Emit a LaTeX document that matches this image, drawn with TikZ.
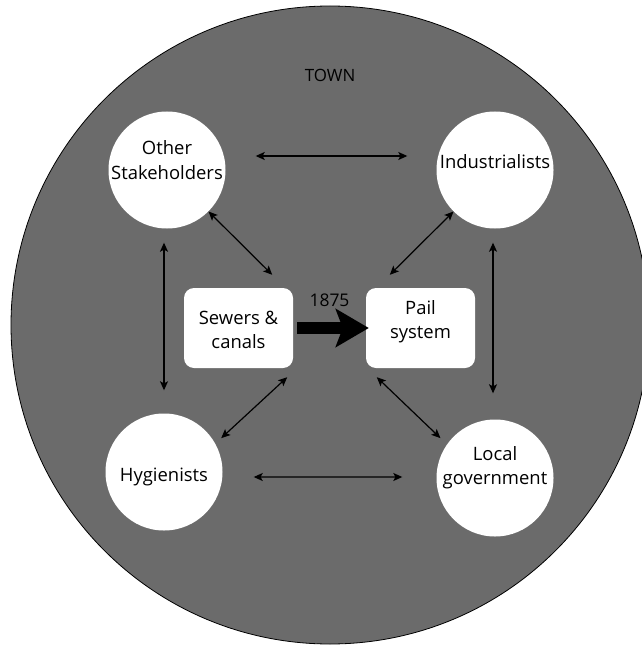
\documentclass[tikz,border=0pt]{standalone}
\usepackage{fontspec}
\setmainfont{Open Sans}
\usetikzlibrary{arrows.meta,calc}

\definecolor{towngray}{RGB}{107,107,107}

\begin{document}
\begin{tikzpicture}[x=1bp, y=-1bp,
  actor/.style={circle, fill=white, minimum size=117bp, inner sep=0pt},
  system/.style={rectangle, rounded corners=10bp, fill=white,
    minimum width=109bp, minimum height=80bp, inner sep=0pt},
  caption/.style={align=center, inner sep=0pt, font=\fontsize{18.5}{24.5}\selectfont},
  link/.style={line width=1.2bp, {Stealth[length=9bp,width=8bp,inset=2bp]}-{Stealth[length=9bp,width=8bp,inset=2bp]}},
  change/.style={line width=12bp, -{Stealth[length=33bp,width=38bp,inset=7bp]}}]
\useasboundingbox (0,0) rectangle (642,646);

%% town boundary
\begin{scope}
\clip (0,0) rectangle (642,646);
\fill[towngray, draw=black, line width=0.8bp] (330,325) circle (319);
\end{scope}
\node (town) at (330,75) {\fontsize{17}{20}\selectfont TOWN};

%% stakeholders
\node[actor, label={[caption, yshift=10bp]center:Other\\Stakeholders}] (other) at (167,170) {};
\node[actor, label={[caption, yshift=8bp]center:Industrialists}] (indus) at (495,170) {};
\node[actor, label={[caption, yshift=-5bp]center:Hygienists}] (hyg) at (164,472) {};
\node[actor, label={[caption, yshift=10bp]center:Local\\government}] (local) at (495,478) {};

%% sanitation systems
\node[system, label={[caption, yshift=-2bp]center:Sewers \&\\canals}] (sewers) at (238.5,328) {};
\node[system, label={[caption, yshift=6bp]center:Pail\\system}] (pail) at (420.5,328) {};

\draw[change, shorten <=4bp, shorten >=-3bp] (sewers.east) -- (pail.west)
  node[midway, above=12bp] (year) {\fontsize{17.5}{20}\selectfont 1875};

%% relations
\draw[link] ([xshift=30bp, yshift=14bp]other.east) -- ([xshift=-29bp, yshift=14bp]indus.west);
\draw[link] ([xshift=31bp, yshift=-5bp]hyg.east) -- ([xshift=-34bp, yshift=1bp]local.west);
\draw[link, shorten <=14bp, shorten >=23bp] (other.south -| hyg) -- (hyg.north);
\draw[link, shorten <=14bp, shorten >=26bp] ([xshift=-2bp]indus.south) -- ([xshift=-2bp]local.north);

\draw[link] (other.-45) -- ($(sewers.north east)+(-21,-13)$);
\draw[link] (indus.-135) -- ($(pail.north west)+(24,-13)$);
\draw[link, shorten >=8bp] ($(sewers.south east)+(-6,9)$) -- (hyg.29);
\draw[link, shorten >=9bp] ($(pail.south west)+(11,9)$) -- (local.145);

\end{tikzpicture}
\end{document}
